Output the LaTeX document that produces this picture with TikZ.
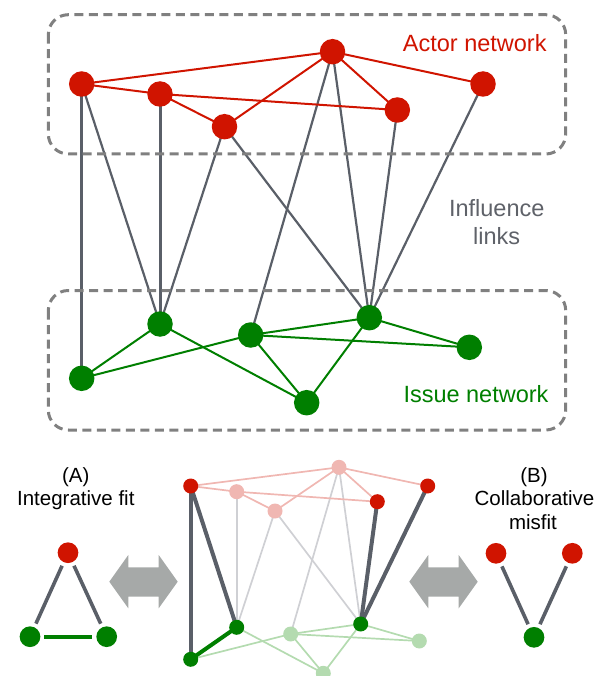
\documentclass[tikz,border=0pt]{standalone}
\usepackage{fontspec}
\setmainfont{Liberation Sans}
\usetikzlibrary{backgrounds}
\definecolor{cred}{RGB}{208,20,0}
\definecolor{cgreen}{RGB}{0,127,0}
\definecolor{lgray}{RGB}{90,95,104}
\definecolor{tgray}{RGB}{95,98,105}
\definecolor{bgray}{RGB}{128,128,128}
\definecolor{fpink}{RGB}{240,183,178}
\definecolor{fgreen}{RGB}{180,219,176}
\definecolor{fgray}{RGB}{207,208,212}
\definecolor{agray}{RGB}{166,169,168}
\begin{document}
\begin{tikzpicture}[x=1pt,y=-1pt,
  rbig/.style={circle,fill=cred,minimum size=25.5pt,inner sep=0pt},
  gbig/.style={circle,fill=cgreen,minimum size=25.5pt,inner sep=0pt},
  rsm/.style={circle,fill=cred,minimum size=15pt,inner sep=0pt},
  gsm/.style={circle,fill=cgreen,minimum size=15pt,inner sep=0pt},
  psm/.style={circle,fill=fpink,minimum size=15pt,inner sep=0pt},
  lgsm/.style={circle,fill=fgreen,minimum size=15pt,inner sep=0pt},
  rmid/.style={circle,fill=cred,minimum size=20.7pt,inner sep=0pt},
  gmid/.style={circle,fill=cgreen,minimum size=20.7pt,inner sep=0pt},
  redge/.style={cred,line width=2pt},
  gedge/.style={cgreen,line width=2pt},
  iedge/.style={lgray,line width=2.2pt},
  vedge/.style={lgray,line width=3pt},
  fredge/.style={fpink,line width=1.7pt},
  fgedge/.style={fgreen,line width=1.7pt},
  fiedge/.style={fgray,line width=1.7pt},
  thickgray/.style={lgray,line width=4pt},
  thickgreen/.style={cgreen,line width=4pt},
  fitline/.style={line width=3.6pt,shorten <=3.8pt,shorten >=3.8pt},
  groupbox/.style={bgray,line width=3pt,dash pattern=on 9pt off 5.5pt,rounded corners=20pt},
  bigarrow/.style={fill=agray},
  bigfont/.style={font=\fontsize{23.5}{28}\selectfont},
  smallfont/.style={font=\fontsize{20.5}{23.5}\selectfont}
]
\useasboundingbox (0,0) rectangle (603,676);

% ---------- group boxes ----------
\draw[groupbox] (48.3,14.7) rectangle (565.7,154);
\draw[groupbox] (48.3,290.5) rectangle (565.7,430);

% ---------- top network ----------
\node[rbig] (A) at (81.7,84) {};
\node[rbig] (B) at (160,94) {};
\node[rbig] (C) at (224.5,126.7) {};
\node[rbig] (D) at (332.5,51.7) {};
\node[rbig] (E) at (397.3,110) {};
\node[rbig] (F) at (483,84) {};
\node[gbig] (G1) at (81.7,378.3) {};
\node[gbig] (G2) at (160,324) {};
\node[gbig] (G3) at (250.7,335) {};
\node[gbig] (G4) at (306.7,402.7) {};
\node[gbig] (G5) at (369.3,317.7) {};
\node[gbig] (G6) at (469.3,347.3) {};

\begin{scope}[on background layer]
\draw[vedge] (A.center) -- (G1.center);
\draw[iedge] (A.center) -- (G2.center);
\draw[vedge] (B.center) -- (G2.center);
\draw[iedge] (C.center) -- (G2.center);
\draw[iedge] (C.center) -- (G5.center);
\draw[iedge] (D.center) -- (G3.center);
\draw[iedge] (D.center) -- (G5.center);
\draw[iedge] (E.center) -- (G5.center);
\draw[iedge] (F.center) -- (G5.center);
\draw[redge] (A.center) -- (D.center);
\draw[redge] (A.center) -- (B.center);
\draw[redge] (B.center) -- (E.center);
\draw[redge] (B.center) -- (C.center);
\draw[redge] (C.center) -- (D.center);
\draw[redge] (D.center) -- (E.center);
\draw[redge] (D.center) -- (F.center);
\draw[gedge] (G1.center) -- (G2.center);
\draw[gedge] (G1.center) -- (G3.center);
\draw[gedge] (G2.center) -- (G4.center);
\draw[gedge] (G3.center) -- (G5.center);
\draw[gedge] (G3.center) -- (G6.center);
\draw[gedge] (G3.center) -- (G4.center);
\draw[gedge] (G5.center) -- (G6.center);
\draw[gedge] (G5.center) -- (G4.center);
\end{scope}

\node[bigfont,text=cred,anchor=base west,inner sep=0pt] (actorlbl) at (402.7,51.7) {Actor network};
\node[bigfont,text=tgray,anchor=base,inner sep=0pt] (inf1) at (496.7,216) {Influence};
\node[bigfont,text=tgray,anchor=base,inner sep=0pt] (inf2) at (496.7,244) {links};
\node[bigfont,text=cgreen,anchor=base west,inner sep=0pt] (issuelbl) at (403.3,402.7) {Issue network};

% ---------- bottom middle network ----------
\node[rsm] (a) at (190.7,486) {};
\node[psm] (b) at (236.7,491.7) {};
\node[psm] (c) at (275,511) {};
\node[psm] (d) at (339,467.3) {};
\node[rsm] (e) at (377.3,501.7) {};
\node[rsm] (f) at (427.7,486) {};
\node[gsm] (g1) at (190.7,659.3) {};
\node[gsm] (g2) at (236.7,627.3) {};
\node[lgsm] (g3) at (290.7,634) {};
\node[lgsm] (g4) at (323.3,673.3) {};
\node[gsm] (g5) at (360.7,624) {};
\node[lgsm] (g6) at (419.3,641) {};

\begin{scope}[on background layer]
\draw[fiedge] (b.center) -- (g2.center);
\draw[fiedge] (c.center) -- (g2.center);
\draw[fiedge] (c.center) -- (g5.center);
\draw[fiedge] (d.center) -- (g3.center);
\draw[fiedge] (d.center) -- (g5.center);
\draw[fredge] (a.center) -- (d.center);
\draw[fredge] (a.center) -- (b.center);
\draw[fredge] (b.center) -- (e.center);
\draw[fredge] (b.center) -- (c.center);
\draw[fredge] (c.center) -- (d.center);
\draw[fredge] (d.center) -- (e.center);
\draw[fredge] (d.center) -- (f.center);
\draw[fgedge] (g1.center) -- (g3.center);
\draw[fgedge] (g2.center) -- (g4.center);
\draw[fgedge] (g3.center) -- (g5.center);
\draw[fgedge] (g3.center) -- (g6.center);
\draw[fgedge] (g3.center) -- (g4.center);
\draw[fgedge] (g5.center) -- (g6.center);
\draw[fgedge] (g5.center) -- (g4.center);
\draw[thickgray] (a.center) -- (g1.center);
\draw[thickgray] (a.center) -- (g2.center);
\draw[thickgray] (e.center) -- (g5.center);
\draw[thickgray] (f.center) -- (g5.center);
\draw[thickgreen] (g1.center) -- (g2.center);
\end{scope}

% ---------- double arrows ----------
\fill[bigarrow] (109.3,581.7) -- (128.3,555) -- (128.3,567.3) -- (158.7,567.3) -- (158.7,555)
  -- (177.7,581.7) -- (158.7,608.3) -- (158.7,596.7) -- (128.3,596.7) -- (128.3,608.3) -- cycle;
\fill[bigarrow] (409.3,581.7) -- (428.3,555) -- (428.3,567.3) -- (458.7,567.3) -- (458.7,555)
  -- (477.7,581.7) -- (458.7,608.3) -- (458.7,596.7) -- (428.3,596.7) -- (428.3,608.3) -- cycle;

% ---------- (A) integrative fit ----------
\node[smallfont,anchor=base,inner sep=0pt] (alab1) at (75.8,482.3) {(A)};
\node[smallfont,anchor=base,inner sep=0pt] (alab2) at (75.8,505) {Integrative fit};
\node[rmid] (Ra) at (68,552.7) {};
\node[gmid] (Ga1) at (30,636.7) {};
\node[gmid] (Ga2) at (106.7,636.7) {};
\draw[fitline,lgray] (Ra) -- (Ga1);
\draw[fitline,lgray] (Ra) -- (Ga2);
\draw[fitline,cgreen] (Ga1) -- (Ga2);

% ---------- (B) collaborative misfit ----------
\node[smallfont,anchor=base,inner sep=0pt] (blab1) at (534,482.3) {(B)};
\node[smallfont,anchor=base,inner sep=0pt] (blab2) at (534.5,505) {Collaborative};
\node[smallfont,anchor=base,inner sep=0pt] (blab3) at (533,529.5) {misfit};
\node[rmid] (Rb1) at (496,553.3) {};
\node[rmid] (Rb2) at (572.3,553.3) {};
\node[gmid] (Gb) at (534,637.3) {};
\draw[fitline,lgray] (Rb1) -- (Gb);
\draw[fitline,lgray] (Rb2) -- (Gb);
\end{tikzpicture}
\end{document}
